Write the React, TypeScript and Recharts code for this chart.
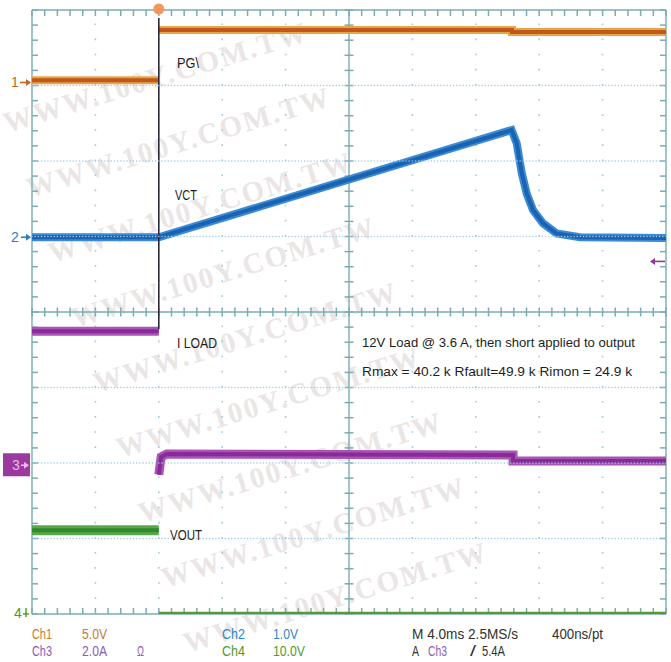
import React from 'react';
import { LineChart, Line, XAxis, YAxis, ReferenceLine, ReferenceDot } from 'recharts';

const WIDTH = 671;
const HEIGHT = 662;
const MARGIN = { top: 10, right: 5, bottom: 48, left: 32 };

// time base (ms), 4 ms/div, 10 divisions, trigger at 0
const TIME_MIN = -8;
const TIME_MAX = 32;
const TIME_CENTRE = 12;
const DIVS_H = 10;
const DIVS_V = 8;

// channel settings: units per division and ground-marker level (divisions above screen centre)
const CH1 = { perDiv: 5, ground: 3.04 };
const CH2 = { perDiv: 1, ground: 0.99 };
const CH3 = { perDiv: 2, ground: -2.03 };
const CH4 = { perDiv: 10, ground: -4 };
const TRIGGER_LEVEL = 5.4; // A on Ch3

// ---- data ----
// Ch1  PG\  (V)
const pgTimes = [-8, 0, 0, 0, 22.28, 22.28, 32];
const pgValues = [0.15, 0.15, null, 3.48, 3.48, 3.35, 3.35];
// Ch2  VCT  (V)
const vctTimes = [-8, 0, 22.26, 22.58, 22.9, 23.21, 23.61, 24.24, 25.1, 26.57, 32];
const vctValues = [0, 0, 1.42, 1.245, 0.85, 0.58, 0.36, 0.185, 0.05, 0, -0.01];
// Ch3  I LOAD  (A)
const iloadTimes = [-8, 0, 0, 0, 0.15, 0.5, 22.35, 22.35, 32];
const iloadValues = [3.55, 3.55, null, -0.25, 0.22, 0.3, 0.27, 0.11, 0.11];
// Ch4  VOUT  (V)
const voutPreTimes = [-8, 0];
const voutPreValues = [11.1, 11.1];
const voutPostTimes = [0, 32];
const voutPostValues = [0.1, 0.1];

const toSeries = (ts: number[], vs: (number | null)[]) => ts.map((t, i) => ({ t, v: vs[i] }));
const domainFor = (ch: { perDiv: number; ground: number }) => [
  (-DIVS_V / 2 - ch.ground) * ch.perDiv,
  (DIVS_V / 2 - ch.ground) * ch.perDiv,
];

const pgData = toSeries(pgTimes, pgValues);
const vctData = toSeries(vctTimes, vctValues);
const iloadData = toSeries(iloadTimes, iloadValues);
const voutPreData = toSeries(voutPreTimes, voutPreValues);
const voutPostData = toSeries(voutPostTimes, voutPostValues);

// ---- graticule ----
const AXIS = '#7aacb3';
const DOTS = '#9ccbe4';
const FONT = "'Liberation Sans Narrow', 'Liberation Sans', Arial, sans-serif";

const round3 = (x: number) => Math.round(x * 1000) / 1000;
const range = (from: number, step: number, n: number) => Array.from({ length: n }, (_, i) => round3(from + i * step));
const majorT = [-4, 0, 4, 8, 16, 20, 24, 28];
const fineT = range(TIME_MIN, 0.2, 201);
const hDots = [-3, -2, -1, 1, 2, 3].flatMap((v) => fineT.map((t) => ({ t, v })));

const squareDot = (p: any) => (
  <rect key={p.index} x={p.cx - 0.65} y={p.cy - 0.65} width={1.3} height={1.3} fill={DOTS} />
);

// graticule minor ticks (decoration), laid out on the plot frame
const PLOT_L = MARGIN.left;
const PLOT_R = WIDTH - MARGIN.right;
const PLOT_T = MARGIN.top;
const PLOT_B = HEIGHT - MARGIN.bottom;
const PLOT_CX = (PLOT_L + PLOT_R) / 2;
const PLOT_CY = (PLOT_T + PLOT_B) / 2;
const minorXs = Array.from({ length: DIVS_H * 5 + 1 }, (_, i) => PLOT_L + (i * (PLOT_R - PLOT_L)) / (DIVS_H * 5));
const minorYs = Array.from({ length: DIVS_V * 5 + 1 }, (_, i) => PLOT_T + (i * (PLOT_B - PLOT_T)) / (DIVS_V * 5));

const Ticks = () => (
  <g stroke={AXIS} strokeWidth={1.5}>
    {minorXs.map((x, i) => (
      <g key={'x' + i}>
        <line x1={x} y1={PLOT_CY - 4.5} x2={x} y2={PLOT_CY + 4.5} />
        <line x1={x} y1={PLOT_T} x2={x} y2={PLOT_T + 6} />
        <line x1={x} y1={PLOT_B - 6} x2={x} y2={PLOT_B} />
      </g>
    ))}
    {minorYs.map((y, i) => (
      <g key={'y' + i}>
        <line x1={PLOT_CX - 4.5} y1={y} x2={PLOT_CX + 4.5} y2={y} />
        <line x1={PLOT_L} y1={y} x2={PLOT_L + 6} y2={y} />
        <line x1={PLOT_R - 6} y1={y} x2={PLOT_R} y2={y} />
      </g>
    ))}
  </g>
);

const Arrow = ({ x1, x2, y, color }: any) => {
  const dir = x2 > x1 ? 1 : -1;
  return (
    <g>
      <line x1={x1} y1={y} x2={x2 - dir * 3} y2={y} stroke={color} strokeWidth={1.6} />
      <path d={`M${x2},${y} L${x2 - dir * 5},${y - 3.5} L${x2 - dir * 5},${y + 3.5} Z`} fill={color} />
    </g>
  );
};

const marker1 = (p: any) => (
  <g>
    <text x={p.cx - 21} y={p.cy + 5} fontSize={14} fontFamily={FONT} fill="#c0682a">1</text>
    <Arrow x1={p.cx - 12} x2={p.cx - 1} y={p.cy} color="#c0682a" />
  </g>
);
const marker2 = (p: any) => (
  <g>
    <text x={p.cx - 21} y={p.cy + 5} fontSize={14} fontFamily={FONT} fill="#2a7ec8">2</text>
    <Arrow x1={p.cx - 11} x2={p.cx - 1} y={p.cy} color="#2a7ec8" />
  </g>
);
const marker3 = (p: any) => (
  <g>
    <rect x={p.cx - 29} y={p.cy - 12} width={27} height={23} fill="#9a3a9e" />
    <text x={p.cx - 20} y={p.cy + 5} fontSize={14} fontFamily={FONT} fill="#f0b8ee">3</text>
    <Arrow x1={p.cx - 11} x2={p.cx - 3} y={p.cy} color="#f0b8ee" />
  </g>
);
const marker4 = (p: any) => (
  <g>
    <text x={p.cx - 18} y={p.cy + 4} fontSize={14} fontFamily={FONT} fill="#4e9a22">4</text>
    <line x1={p.cx - 6} y1={p.cy - 6} x2={p.cx - 6} y2={p.cy + 3} stroke="#4e9a22" strokeWidth={1.4} />
    <line x1={p.cx - 9} y1={p.cy} x2={p.cx - 3} y2={p.cy} stroke="#4e9a22" strokeWidth={1.4} />
  </g>
);
const triggerLevelMarker = (p: any) => <Arrow x1={p.cx - 1} x2={p.cx - 16} y={p.cy} color="#8c3c9c" />;
const triggerPosMarker = (p: any) => <circle cx={p.cx} cy={p.cy - 1} r={5.5} fill="#f4975c" />;

const WATERMARK_ROWS = [
  [7, 133], [30, 198], [52, 263], [75, 328], [97, 393], [120, 458], [142, 523], [165, 588], [187, 653],
];

const Background = () => (
  <svg width={WIDTH} height={HEIGHT} style={{ position: 'absolute', left: 0, top: 0 }}>
    {WATERMARK_ROWS.map(([x, y], i) => (
      <text
        key={i}
        x={x}
        y={y}
        transform={`rotate(-17 ${x} ${y})`}
        fontSize={29}
        fontWeight="bold"
        letterSpacing={2}
        fontFamily="'Liberation Serif', 'DejaVu Serif', serif"
        fill="#ebe6e6"
      >
        WWW.100Y.COM.TW
      </text>
    ))}
    <Ticks />
  </svg>
);

type Lbl = { text: string; x: number; y: number; len: number; color: string; size?: number };
const LABELS: Lbl[] = [
  { text: 'PG\\', x: 177, y: 68, len: 22, color: '#1e1e1e' },
  { text: 'VCT', x: 175, y: 200, len: 22, color: '#1e1e1e' },
  { text: 'I LOAD', x: 177, y: 348, len: 40, color: '#1e1e1e' },
  { text: 'VOUT', x: 170, y: 540, len: 32, color: '#1e1e1e' },
  { text: '12V Load @ 3.6 A, then short applied to output', x: 362, y: 347, len: 273, color: '#1e1e1e', size: 13.5 },
  { text: 'Rmax = 40.2 k  Rfault=49.9  k Rimon = 24.9 k', x: 362, y: 376, len: 270, color: '#1e1e1e', size: 13.5 },
  { text: 'Ch1', x: 32, y: 639, len: 20, color: '#c47a34' },
  { text: '5.0V', x: 82, y: 639, len: 25, color: '#c47a34' },
  { text: 'Ch3', x: 32, y: 656, len: 20, color: '#8a5ab4' },
  { text: '2.0A', x: 82, y: 656, len: 25, color: '#8a5ab4' },
  { text: 'Ω', x: 137, y: 656, len: 7, color: '#8a5ab4' },
  { text: 'Ch2', x: 222, y: 639, len: 23, color: '#2f86cc' },
  { text: '1.0V', x: 273, y: 639, len: 25, color: '#2f86cc' },
  { text: 'Ch4', x: 222, y: 656, len: 23, color: '#4f9a2e' },
  { text: '10.0V', x: 273, y: 656, len: 32, color: '#4f9a2e' },
  { text: 'M 4.0ms 2.5MS/s', x: 412, y: 639, len: 106, color: '#303030' },
  { text: '400ns/pt', x: 552, y: 639, len: 51, color: '#303030' },
  { text: 'A', x: 412, y: 656, len: 7, color: '#303030' },
  { text: 'Ch3', x: 428, y: 656, len: 19, color: '#8a5ab4' },
  { text: '/', x: 470, y: 656, len: 6, color: '#303030' },
  { text: '5.4A', x: 482, y: 656, len: 23, color: '#303030' },
];

const Labels = () => (
  <svg width={WIDTH} height={HEIGHT} style={{ position: 'absolute', left: 0, top: 0, pointerEvents: 'none' }}>
    {LABELS.map((l, i) => (
      <text
        key={i}
        x={l.x}
        y={l.y}
        fontSize={l.size ?? 15}
        fontFamily={FONT}
        fill={l.color}
        textLength={l.len}
        lengthAdjust="spacingAndGlyphs"
      >
        {l.text}
      </text>
    ))}
  </svg>
);

export default function App() {
  return (
    <div style={{ position: 'absolute', left: 0, top: 0, width: WIDTH, height: HEIGHT, background: '#ffffff', overflow: 'hidden' }}>
      <Background />
      <div style={{ position: 'absolute', left: 0, top: 0 }}>
        <LineChart width={WIDTH} height={HEIGHT} margin={MARGIN}>
          <XAxis type="number" dataKey="t" domain={[TIME_MIN, TIME_MAX]} allowDataOverflow hide />
          <YAxis yAxisId="grid" type="number" domain={[-4, 4]} allowDataOverflow hide />
          <YAxis yAxisId="ch1" type="number" domain={domainFor(CH1)} allowDataOverflow hide />
          <YAxis yAxisId="ch2" type="number" domain={domainFor(CH2)} allowDataOverflow hide />
          <YAxis yAxisId="ch3" type="number" domain={domainFor(CH3)} allowDataOverflow hide />
          <YAxis yAxisId="ch4" type="number" domain={domainFor(CH4)} allowDataOverflow hide />

          <Line yAxisId="grid" data={hDots} dataKey="v" stroke="none" strokeWidth={0} dot={squareDot} activeDot={false} isAnimationActive={false} />
          {majorT.map((t) => (
            <ReferenceLine key={'dt' + t} yAxisId="grid" x={t} stroke={DOTS} strokeWidth={1.6} strokeDasharray="1.6 13.5" />
          ))}
          {[TIME_MIN, TIME_CENTRE, TIME_MAX].map((t) => (
            <ReferenceLine key={'bt' + t} yAxisId="grid" x={t} stroke={AXIS} strokeWidth={1.4} />
          ))}
          {[-4, 0, 4].map((v) => (
            <ReferenceLine key={'bv' + v} yAxisId="grid" y={v} stroke={AXIS} strokeWidth={1.4} />
          ))}

          <Line yAxisId="ch1" data={pgData} dataKey="v" stroke="#e2a845" strokeWidth={8} dot={false} isAnimationActive={false} connectNulls={false} />
          <Line yAxisId="ch1" data={pgData} dataKey="v" stroke="#c2561e" strokeWidth={4} dot={false} isAnimationActive={false} connectNulls={false} />

          <Line yAxisId="ch2" data={vctData} dataKey="v" stroke="#3a8ad4" strokeWidth={8} dot={false} isAnimationActive={false} />
          <Line yAxisId="ch2" data={vctData} dataKey="v" stroke="#1a62b2" strokeWidth={4} dot={false} isAnimationActive={false} />

          <Line yAxisId="ch3" data={iloadData} dataKey="v" stroke="#a856b4" strokeWidth={9} dot={false} isAnimationActive={false} connectNulls={false} />
          <Line yAxisId="ch3" data={iloadData} dataKey="v" stroke="#8a2a98" strokeWidth={4} dot={false} isAnimationActive={false} connectNulls={false} />

          <Line yAxisId="ch4" data={voutPreData} dataKey="v" stroke="#5aa848" strokeWidth={10} dot={false} isAnimationActive={false} />
          <Line yAxisId="ch4" data={voutPreData} dataKey="v" stroke="#2f8a2f" strokeWidth={4} dot={false} isAnimationActive={false} />
          <Line yAxisId="ch4" data={voutPostData} dataKey="v" stroke="#5a9a2a" strokeWidth={3} dot={false} isAnimationActive={false} />

          <ReferenceLine yAxisId="ch3" segment={[{ x: 0, y: 11.85 }, { x: 0, y: 3.6 }]} stroke="#2a2a3a" strokeWidth={1.6} />

          <ReferenceDot yAxisId="ch1" x={TIME_MIN} y={0} ifOverflow="visible" shape={marker1} />
          <ReferenceDot yAxisId="ch2" x={TIME_MIN} y={0} ifOverflow="visible" shape={marker2} />
          <ReferenceDot yAxisId="ch3" x={TIME_MIN} y={0} ifOverflow="visible" shape={marker3} />
          <ReferenceDot yAxisId="ch4" x={TIME_MIN} y={0} ifOverflow="visible" shape={marker4} />
          <ReferenceDot yAxisId="ch3" x={TIME_MAX} y={TRIGGER_LEVEL} ifOverflow="visible" shape={triggerLevelMarker} />
          <ReferenceDot yAxisId="grid" x={0} y={4} ifOverflow="visible" shape={triggerPosMarker} />
        </LineChart>
      </div>
      <Labels />
    </div>
  );
}
